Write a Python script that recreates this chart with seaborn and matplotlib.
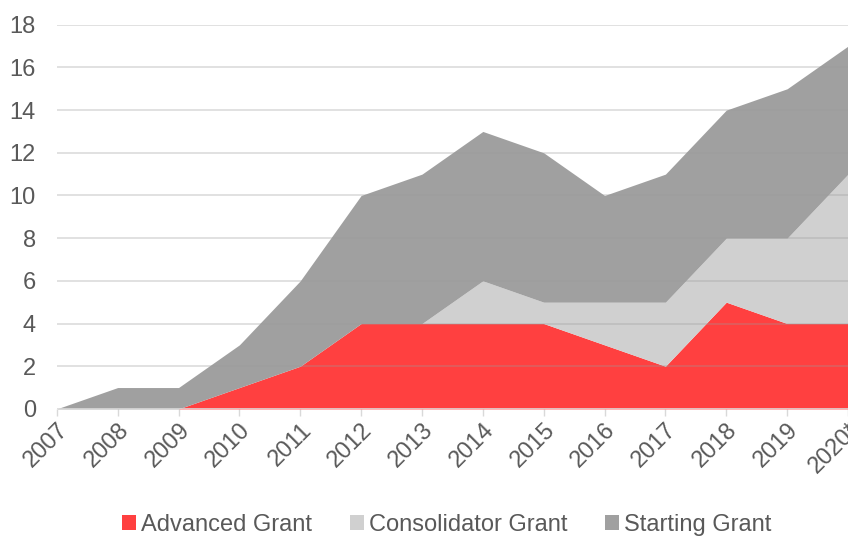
import numpy as np
import pandas as pd
import seaborn as sns
import matplotlib.pyplot as plt

# donnees
annees = ['2007', '2008', '2009', '2010', '2011', '2012', '2013',
          '2014', '2015', '2016', '2017', '2018', '2019', '2020*']
advanced = [0, 0, 0, 1, 2, 4, 4, 4, 4, 3, 2, 5, 4, 4]
consolidator = [0, 0, 0, 0, 0, 0, 0, 2, 1, 2, 3, 3, 4, 7]
starting = [0, 1, 1, 2, 4, 6, 7, 7, 7, 5, 6, 6, 7, 6]

df = pd.DataFrame({'annee': annees, 'Advanced Grant': advanced,
                   'Consolidator Grant': consolidator, 'Starting Grant': starting})

sns.set_theme(style="white")
plt.rcParams['font.family'] = ['Liberation Sans', 'DejaVu Sans']

couleurs = ['#ff4040', '#d0d0d0', '#a0a0a0']
texte = '#595959'

fig = plt.figure(figsize=(8.48, 5.38), dpi=100)
ax = fig.add_axes([0.067, 0.24, 0.933, 0.714])

x = np.arange(len(annees))
series = ['Advanced Grant', 'Consolidator Grant', 'Starting Grant']
ax.stackplot(x, [df[s] for s in series], colors=couleurs, labels=series,
             linewidth=0, zorder=2)

# grille horizontale
for y in range(2, 19, 2):
    ax.axhline(y, color='#9a9a9a', alpha=0.35, lw=1.2, zorder=3)
ax.axhline(0, color='#d9d9d9', lw=1.2, zorder=4)

ax.set_xlim(0, len(annees) - 1)
ax.set_ylim(0, 18)
ax.set_yticks(range(0, 19, 2))
ax.set_xticks(x)
ax.set_xticklabels(annees, rotation=45, ha='right', rotation_mode='anchor')
ax.tick_params(axis='y', labelsize=17, colors=texte, length=0, pad=15)
ax.tick_params(axis='x', labelsize=17, colors=texte, length=5, width=1,
               direction='out', color='#d9d9d9', pad=2, bottom=True)
for lab in ax.get_xticklabels():
    lab.set_color(texte)

sns.despine(ax=ax, left=True, bottom=True)

leg = ax.legend(loc='center', bbox_to_anchor=(0.493, -0.302), ncol=3,
                frameon=False, fontsize=17, handlelength=0.6, handleheight=0.6,
                handletextpad=0.2, columnspacing=1.6, borderpad=0)
for t in leg.get_texts():
    t.set_color(texte)

fig.savefig('out.png', dpi=100)
